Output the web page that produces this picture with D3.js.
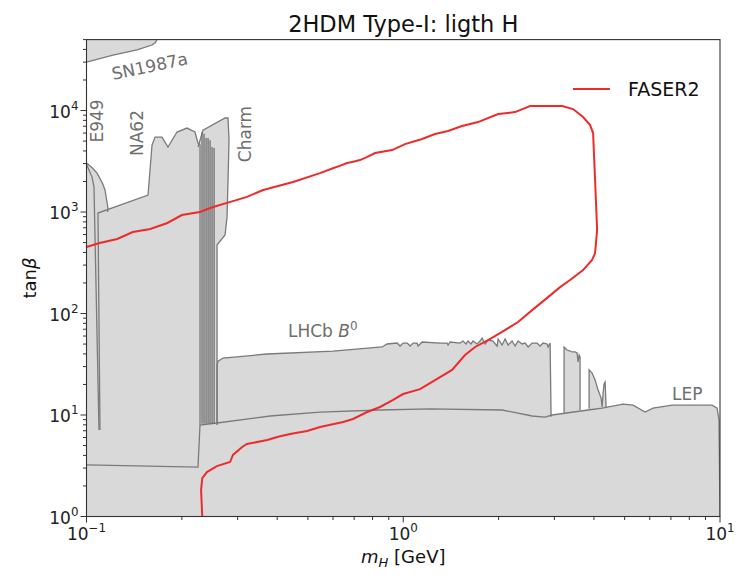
<!DOCTYPE html>
<html><head><meta charset="utf-8">
<script src="https://cdn.jsdelivr.net/npm/d3@7"></script>
<style>body{margin:0;background:#fff;} text{font-family:"DejaVu Sans",sans-serif;}</style>
</head><body><svg id="c" width="750" height="578"></svg>
<script>
// ---------- data (m_H [GeV], tan beta) ----------
const xMajor = [0.1, 1, 10];
const xMajorExp = ["\u22121", "0", "1"];
const yMajor = [1, 10, 100, 1000, 10000];
const yMajorExp = ["0", "1", "2", "3", "4"];

const faser2 = [[0.1,452],[0.110,495],[0.125,542],[0.140,636],[0.159,680],[0.180,780],[0.200,934],[0.228,1000],
 [0.251,1120],[0.290,1280],[0.321,1410],[0.361,1650],[0.449,1980],[0.546,2420],[0.60,2700],[0.63,2850],[0.665,3040],
 [0.70,3150],[0.730,3250],[0.77,3500],[0.815,3810],[0.922,4080],[1.013,4670],[1.147,5240],[1.260,5870],[1.385,6280],
 [1.533,7030],[1.723,7700],[1.993,9240],[2.255,9660],[2.515,11070],[2.805,11070],[3.173,11070],[3.437,10340],
 [3.696,8630],[3.890,7190],[3.975,6000],[4.033,2070],[4.093,665],[4.033,394],[3.946,337],[3.696,268],[3.363,214],
 [3.127,182],[2.866,145],[2.552,108],[2.304,82.4],[2.051,65.8],[1.853,54.8],[1.686,46.8],[1.567,39.0],[1.426,27.8],
 [1.260,22.1],[1.130,18.0],[0.999,16.1],[0.929,14.1],[0.845,12.0],[0.769,10.7],[0.694,9.14],[0.646,8.53],[0.546,7.62],
 [0.497,6.95],[0.439,6.50],[0.400,6.07],[0.372,5.67],[0.321,5.18],[0.310,4.84],[0.290,4.04],[0.284,3.44],[0.258,3.14],
 [0.240,2.74],[0.232,2.39],[0.230,1.82],[0.232,1.0]];

const lep = [[0.1,3.22],[0.2249,3.07],[0.2282,7.97],[0.2583,8.34],[0.380,9.78],[0.546,10.7],[0.845,11.2],[1.215,11.5],
 [2.051,11.2],[2.552,9.78],[2.805,9.55],[2.95,10.0],[3.833,11.2],[4.244,11.7],[4.943,12.8],[5.316,12.5],[5.801,10.7],
 [6.148,11.7],[7.06,12.5],[9.44,12.5],[9.79,11.7],[9.93,8.93],[10,1]];

const sn1987a = [[0.1,30000],[0.1212,35200],[0.1444,39500],[0.161,44200],[0.1646,46500],[0.167,50000]];

const e949Outer = [[0.1,3040],[0.104,2750],[0.108,2420],[0.1125,1900],[0.1144,1650],[0.1169,1090],[0.1165,1000]];
const e949Inner = [[0.1,2950],[0.1041,2210],[0.1056,1763],[0.1095,7.1]];

const na62 = [[0.1103,7.1],[0.1087,977],[0.1564,1470],[0.161,4570],[0.1646,5480],[0.1731,5480],[0.1808,4370],
 [0.1931,6140],[0.2076,6720],[0.22,6140],[0.2249,4780],[0.2282,4570],[0.2282,8.0]];

const charm = [[0.2249,4370],[0.2333,6420],[0.2738,8440],[0.2798,8440],[0.2818,5120],[0.2798,2070],[0.2778,893],
 [0.2738,594],[0.2583,473],[0.2583,8.0]];
const charmSpikeMass = [0.2316,0.2350,0.2385,0.2420,0.2455,0.2491,0.2528];
const charmSpikeTop = [6140,5900,5360,5360,5100,4370,4270];

const lhcb1 = [[0.2583,8.0],[0.2583,31.1],[0.2602,34.0],[0.2698,36.4],[0.3715,39.9],[0.6003,42.7],[0.8573,46.8],
 [0.889,50.1],[0.956,51.2],[0.977,47.8],[0.999,51.2],[1.03,51.2],[1.051,47.8],[1.075,51.2],[1.106,51.2],[1.114,47.8],
 [1.147,52.4],[1.307,51.2],[1.375,51.2],[1.385,48.9],[1.406,52.4],[1.511,51.2],[1.544,53.6],[1.578,50.1],[1.601,53.6],
 [1.637,50.1],[1.661,53.6],[1.710,50.1],[1.748,53.6],[1.774,57.4],[1.813,50.1],[1.853,54.8],[1.921,53.6],[1.978,47.8],
 [1.993,56.1],[2.051,48.9],[2.097,56.1],[2.143,48.9],[2.206,53.6],[2.255,47.8],[2.304,53.6],[2.373,50.1],[2.425,51.2],
 [2.479,46.8],[2.552,51.2],[2.646,51.2],[2.704,47.8],[2.764,51.2],[2.845,50.1],[2.866,46.8],[2.908,51.2],[2.929,9.6]];
const lhcb2 = [[3.219,10.5],[3.219,46.8],[3.29,43.7],[3.363,42.7],[3.412,41.8],[3.487,41.8],[3.538,40.8],[3.564,33.3],
 [3.591,39.0],[3.616,37.2],[3.616,11.2]];
const lhcb3 = [[3.861,11.5],[3.861,27.8],[3.946,25.9],[4.033,22.1],[4.122,17.6],[4.214,14.7],[4.244,12.0],[4.275,16.5],
 [4.306,20.2],[4.338,21.1],[4.370,11.7]];

// ---------- layout ----------
const svg = d3.select("#c");
const L = 86.5, R = 720, T = 39.6, B = 516.5;
const x = d3.scaleLog().domain([0.1, 10]).range([L, R]);
const y = d3.scaleLog().domain([1, 50000]).range([B, T]);
const FILL = "#d9d9d9", EDGE = "#7a7a7a", LBL = "#6e6e6e";

svg.append("defs").append("clipPath").attr("id","clip")
  .append("rect").attr("x",L).attr("y",T).attr("width",R-L).attr("height",B-T);
const g = svg.append("g").attr("clip-path","url(#clip)");
const line = d3.line().x(d => x(d[0])).y(d => y(d[1]));

// fills
const fills = [
  lep.concat([[0.1,1]]),
  e949Outer.concat([[0.1169,1],[0.1,1]]),
  na62.concat([[0.2282,1],[0.1103,1]]),
  charm.concat([[0.2583,1],[0.2249,1]]),
  lhcb1.concat([[2.929,1],[0.2583,1]]),
  lhcb2.concat([[3.616,1],[3.219,1]]),
  lhcb3.concat([[4.370,1],[3.861,1]]),
  sn1987a.concat([[0.1,50000]])
];
fills.forEach(p => g.append("path").attr("d", line(p) + "Z").attr("fill", FILL).attr("stroke","none"));

// edges
[lep, e949Outer, e949Inner, na62, charm, lhcb1, lhcb2, lhcb3, sn1987a].forEach(p =>
  g.append("path").attr("d", line(p)).attr("fill","none").attr("stroke",EDGE).attr("stroke-width",1.3));
charmSpikeMass.forEach((m,i) =>
  g.append("line").attr("x1",x(m)).attr("x2",x(m)).attr("y1",y(charmSpikeTop[i])).attr("y2",y(8.2))
   .attr("stroke","#666").attr("stroke-width",1.2));

// FASER2
g.append("path").attr("d", line(faser2)).attr("fill","none").attr("stroke","#ee2b2b").attr("stroke-width",2);

// frame
svg.append("rect").attr("x",L).attr("y",T).attr("width",R-L).attr("height",B-T)
  .attr("fill","none").attr("stroke","#333").attr("stroke-width",1.1);

// ticks
const ax = svg.append("g").attr("stroke","#333").attr("stroke-width",1);
const xMinor = [], yMinor = [];
[0.1,1].forEach(d => { for (let j=2;j<=9;j++) xMinor.push(d*j); });
[1,10,100,1000,10000].forEach(d => { for (let j=2;j<=9;j++) if (d*j<=50000) yMinor.push(d*j); });
xMajor.forEach(v => ax.append("line").attr("x1",x(v)).attr("x2",x(v)).attr("y1",B).attr("y2",B+6));
xMinor.forEach(v => ax.append("line").attr("x1",x(v)).attr("x2",x(v)).attr("y1",B).attr("y2",B+3.5));
yMajor.forEach(v => ax.append("line").attr("x1",L-6).attr("x2",L).attr("y1",y(v)).attr("y2",y(v)));
yMinor.forEach(v => ax.append("line").attr("x1",L-3.5).attr("x2",L).attr("y1",y(v)).attr("y2",y(v)));

const FS = 17;
function pow(t, e) {
  t.append("tspan").text("10");
  t.append("tspan").attr("dy", -0.45*FS).attr("font-size", FS*0.7).text(e);
}
xMajor.forEach((v,i) => {
  const t = svg.append("text").attr("x", x(v)).attr("y", B+23).attr("font-size",FS)
    .attr("text-anchor","middle").attr("fill","#222");
  pow(t, xMajorExp[i]);
});
yMajor.forEach((v,i) => {
  const t = svg.append("text").attr("x", L-8).attr("y", y(v)+7).attr("font-size",FS)
    .attr("text-anchor","end").attr("fill","#222");
  pow(t, yMajorExp[i]);
});

// title & axis labels
svg.append("text").attr("x",(L+R)/2).attr("y",32).attr("text-anchor","middle").attr("font-size",22.5)
  .attr("fill","#111").text("2HDM Type-I: ligth H");
const xl = svg.append("text").attr("x",(L+R)/2).attr("y",563).attr("text-anchor","middle").attr("font-size",18).attr("fill","#111");
xl.append("tspan").attr("font-style","italic").text("m");
xl.append("tspan").attr("font-style","italic").attr("font-size",13).attr("dy",4).text("H");
xl.append("tspan").attr("dy",-4).text(" [GeV]");
const yl = svg.append("text").attr("transform",`translate(36,${(T+B)/2}) rotate(-90)`).attr("text-anchor","middle")
  .attr("font-size",18).attr("fill","#111");
yl.append("tspan").text("tan");
yl.append("tspan").attr("font-style","italic").text("\u03b2");

// region labels
svg.append("text").attr("transform","translate(151,72) rotate(-12)").attr("text-anchor","middle")
  .attr("font-size",FS).attr("fill",LBL).text("SN1987a");
[["E949",103,121],["NA62",143,133],["Charm",251,134]].forEach(d =>
  svg.append("text").attr("transform",`translate(${d[1]},${d[2]}) rotate(-90)`).attr("text-anchor","middle")
    .attr("font-size",FS).attr("fill",LBL).text(d[0]));
const lh = svg.append("text").attr("x",288).attr("y",337).attr("font-size",FS).attr("fill",LBL);
lh.append("tspan").text("LHCb ");
lh.append("tspan").attr("font-style","italic").text("B");
lh.append("tspan").attr("dy",-7).attr("font-size",12).text("0");
svg.append("text").attr("x",672).attr("y",400).attr("font-size",FS).attr("fill",LBL).text("LEP");

// legend
svg.append("line").attr("x1",573).attr("x2",610).attr("y1",89).attr("y2",89).attr("stroke","#ee2b2b").attr("stroke-width",2);
svg.append("text").attr("x",628).attr("y",96).attr("font-size",19).attr("fill","#111").text("FASER2");
</script></body></html>
